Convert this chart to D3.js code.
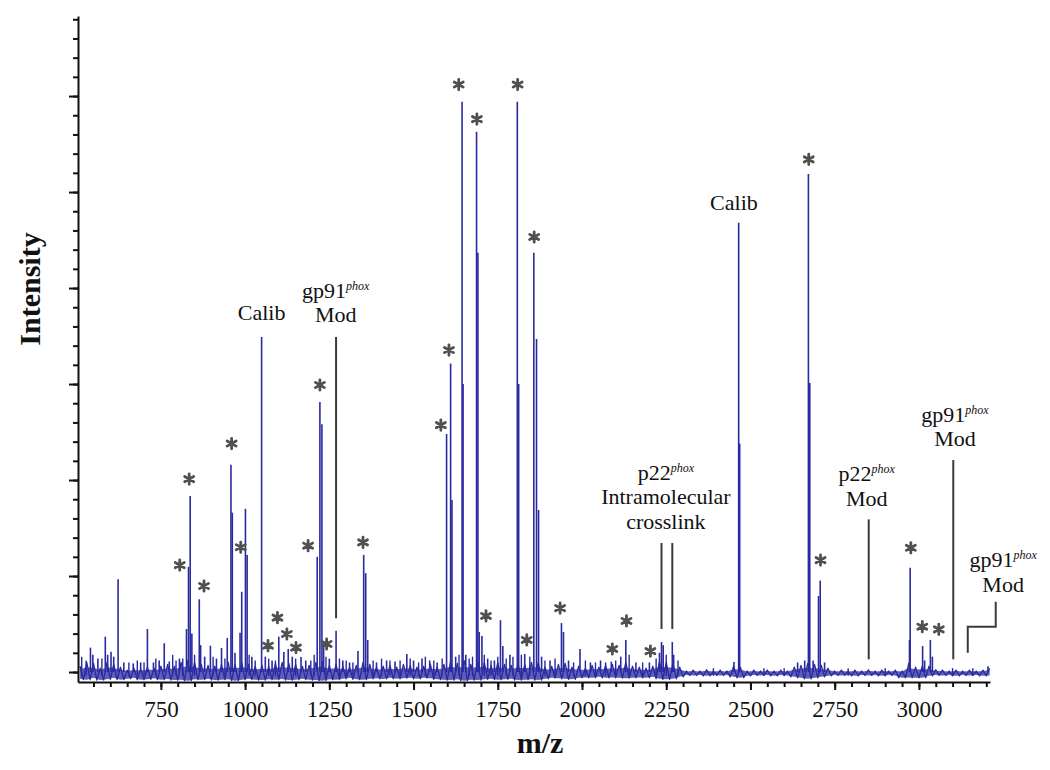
<!DOCTYPE html>
<html><head><meta charset="utf-8">
<script src="https://cdn.jsdelivr.net/npm/d3@7"></script>
<style>body{margin:0;background:#fff}svg{display:block}</style>
</head><body>
<svg id="chart" width="1050" height="770"></svg>
<script>
// ---------- DATA ----------
const xMajorTicks = [750, 1000, 1250, 1500, 1750, 2000, 2250, 2500, 2750, 3000];
const xTickLabels = ["750", "1000", "1250", "1500", "1750", "2000", "2250", "2500", "2750", "3000"];
const yMajorTicks = [0, 5, 10, 15, 20, 25, 30];

// baseline noise envelope, sampled every 20 m/z from 510
const noiseHi = [
0.3,0.5,0.45,0.2,0.5,0.4,0.25,0.1,0.2,0.15,
0.25,0.2,0.3,0.4,0.3,0.5,0.6,0.5,0.4,0.35,
0.3,0.4,0.5,0.4,0.5,0.4,0.3,0.35,0.3,0.45,
0.5,0.45,0.4,0.3,0.35,0.5,0.55,0.35,0.4,0.3,
0.25,0.35,0.5,0.4,0.25,0.3,0.35,0.25,0.4,0.35,
0.25,0.3,0.4,0.25,0.4,0.55,0.45,0.6,0.4,0.55,
0.5,0.35,0.5,0.4,0.35,0.45,0.4,0.5,0.5,0.25,
0.3,0.4,0.45,0.25,0.3,0.2,0.35,0.25,0.35,0.4,
0.35,0.5,0.3,0.25,0.2,0.3,0.55,0.5,0.45,0.25,
0.05,0.1,0.05,0.12,0.05,0.1,0.05,0.3,0.25,0.05,
0.1,0.05,0.1,0.05,0.1,0.05,0.25,0.35,0.45,0.4,
0.35,0.2,0.05,0.1,0.05,0.1,0.05,0.12,0.05,0.1,
0.05,0.1,0.05,0.45,0.25,0.3,0.3,0.12,0.1,0.05,
0.1,0.05,0.1,0.05,0.1,0.2];
const noiseLo = [
-0.35,-0.4,-0.3,-0.42,-0.38,-0.3,-0.4,-0.35,-0.3,-0.4,
-0.38,-0.32,-0.4,-0.36,-0.42,-0.4,-0.45,-0.38,-0.4,-0.35,
-0.42,-0.4,-0.38,-0.45,-0.4,-0.35,-0.4,-0.42,-0.38,-0.4,
-0.36,-0.42,-0.4,-0.35,-0.4,-0.42,-0.45,-0.38,-0.4,-0.35,
-0.3,-0.38,-0.4,-0.35,-0.32,-0.36,-0.3,-0.35,-0.32,-0.3,
-0.35,-0.3,-0.32,-0.38,-0.4,-0.42,-0.38,-0.45,-0.4,-0.42,
-0.38,-0.35,-0.4,-0.38,-0.35,-0.42,-0.4,-0.38,-0.42,-0.35,
-0.3,-0.32,-0.35,-0.38,-0.3,-0.28,-0.3,-0.25,-0.3,-0.28,
-0.3,-0.32,-0.3,-0.28,-0.3,-0.25,-0.35,-0.38,-0.35,-0.25,
-0.15,-0.18,-0.15,-0.2,-0.15,-0.18,-0.15,-0.25,-0.3,-0.2,
-0.15,-0.18,-0.15,-0.2,-0.15,-0.18,-0.25,-0.3,-0.35,-0.3,
-0.25,-0.2,-0.15,-0.18,-0.15,-0.2,-0.15,-0.18,-0.15,-0.2,
-0.15,-0.18,-0.3,-0.28,-0.3,-0.3,-0.2,-0.15,-0.18,-0.15,
-0.2,-0.15,-0.18,-0.15,-0.2,-0.18];

// main peaks: m/z and intensity (arbitrary units)
const peakMz = [541,548,563,585,592,602,610,623,640,668,690,710,728,745,760,775,805,826,832,837,842,864,868,880,897,915,930,947,958,962,970,985,990,1001,1006,1020,1049,1060,1080,1100,1115,1128,1140,1166,1180,1214,1222,1228,1233,1250,1270,1290,1310,1335,1352,1358,1364,1390,1420,1445,1480,1500,1525,1548,1570,1598,1610,1614,1625,1644,1647,1655,1687,1691,1695,1703,1720,1740,1758,1765,1786,1808,1812,1830,1857,1865,1871,1880,1905,1939,1945,1960,1994,2025,2055,2087,2115,2130,2160,2200,2230,2236,2241,2268,2272,2451,2465,2468,2640,2661,2672,2676,2686,2702,2707,2720,2972,2974,3011,3017,3034,3040,3205];
const peakInt = [1.27,0.9,0.7,1.84,0.9,1.06,0.8,4.83,0.5,0.45,0.5,2.24,0.5,0.6,1.5,0.55,0.7,2.24,5.48,9.17,2.0,3.79,1.4,0.8,1.37,0.7,1.25,1.77,10.8,8.3,1.0,2.05,4.18,8.5,6.1,0.8,17.45,0.8,0.6,1.84,1.04,1.2,0.8,0.78,0.6,6.0,14.06,12.9,1.5,0.7,2.15,0.6,0.5,1.1,6.1,5.15,1.67,0.5,0.6,0.55,0.94,0.6,0.7,0.6,0.5,12.4,16.07,8.96,0.8,29.7,15.0,0.9,28.14,21.84,2.08,1.88,0.7,0.6,2.7,1.35,0.9,29.7,15.0,0.94,21.84,17.34,8.44,0.8,0.6,2.55,2.08,0.6,1.2,0.5,0.6,0.54,0.8,1.67,0.5,0.5,1.0,1.56,1.4,1.56,0.9,0.52,23.4,11.9,0.5,0.6,25.94,15.05,0.6,3.96,4.76,0.5,1.67,5.43,1.35,0.6,1.67,0.8,0.3];

// small noise spikes
const smallMz = [515,528,575,655,680,700,735,785,795,815,850,905,940,1012,1030,1070,1090,1150,1195,1205,1240,1280,1300,1320,1380,1405,1430,1460,1490,1515,1535,1560,1585,1635,1665,1675,1710,1730,1750,1775,1795,1820,1845,1890,1920,1975,2010,2040,2070,2100,2140,2180,2220,2250,2285,2390,2540,2600,2790,2900,3100,3160];
const smallInt = [0.8,0.6,0.7,0.5,0.6,0.5,0.7,0.9,0.6,0.7,0.9,0.8,0.7,0.9,0.6,0.7,0.6,0.7,0.6,0.9,0.8,0.7,0.6,0.5,0.6,0.7,0.6,0.6,0.7,0.5,0.8,0.6,0.7,0.9,0.7,0.8,0.9,0.6,0.8,0.7,0.8,0.9,0.8,0.6,0.7,0.5,0.6,0.5,0.5,0.6,0.9,0.5,0.7,0.9,0.6,0.2,0.2,0.2,0.2,0.2,0.2,0.2];

// asterisk annotations (m/z, intensity level)
const starMz = [806,834,878,960,987,1068,1096,1124,1151,1187,1222,1242,1350,1581,1605,1634,1688,1715,1809,1836,1858,1935,2090,2132,2203,2673,2708,2976,3010,3059];
const starLevel = [5.57,10.05,4.48,11.9,6.5,1.37,2.83,1.98,1.27,6.58,14.95,1.46,6.75,12.86,16.77,30.6,28.8,2.92,30.6,1.67,22.66,3.33,1.2,2.66,1.09,26.7,5.83,6.47,2.36,2.22];

// annotation leader lines
const leaderMz = [1270, 2236, 2268, 2851, 3102];
const leaderFrom = [2.8, 2.24, 2.24, 0.66, 0.66];
const leaderTo = [17.45, 6.72, 6.72, 7.95, 11.04];
const bracketMz = [3145, 3145, 3228, 3228];
const bracketLevel = [1.0, 2.36, 2.36, 3.66];

// annotation labels ("^" marks the superscript part)
const labelLines = [["Calib"], ["gp91^phox", "Mod"], ["p22^phox", "Intramolecular", "crosslink"], ["Calib"], ["p22^phox", "Mod"], ["gp91^phox", "Mod"], ["gp91^phox", "Mod"]];
const labelMz = [1049, 1269, 2249, 2451, 2845, 3107, 3250];
const labelLevel = [18.33, 18.23, 7.45, 24.06, 8.65, 11.77, 4.17];

// ---------- CHART ----------
const svg = d3.select("#chart");
const x = d3.scaleLinear().domain([504, 3211]).range([78, 990]);
const y = d3.scaleLinear().domain([-0.52, 34.17]).range([682, 16]);
const blue = "#2a2aa0";
const serif = "'Liberation Serif', 'Times New Roman', serif";

// noise band (area + zigzag between envelope samples)
const noiseMz = d3.range(510, 3211, 20);
const noise = noiseMz.map((m, i) => ({mz: m, hi: noiseHi[i], lo: noiseLo[i]})).filter(d => d.hi !== undefined);
svg.append("path").datum(noise)
  .attr("d", d3.area().x(d => x(d.mz)).y0(d => y(d.lo)).y1(d => y(d.hi * 0.5)))
  .attr("fill", blue).attr("fill-opacity", 0.75);
const zig = [];
noise.forEach((d, i) => {
  zig.push([x(d.mz), y(d.hi)]);
  const next = noise[i + 1];
  if (next) zig.push([x((d.mz + next.mz) / 2), y(Math.min(d.lo, next.lo))]);
});
svg.append("path").attr("d", d3.line()(zig))
  .attr("fill", "none").attr("stroke", blue).attr("stroke-width", 1.3).attr("stroke-linejoin", "round");

// small spikes
svg.append("g").selectAll("line").data(smallMz).join("line")
  .attr("x1", d => x(d)).attr("x2", d => x(d))
  .attr("y1", y(-0.2)).attr("y2", (d, i) => y(smallInt[i]))
  .attr("stroke", blue).attr("stroke-width", 1.4);

// peaks
svg.append("g").selectAll("line").data(peakMz).join("line")
  .attr("x1", d => x(d)).attr("x2", d => x(d))
  .attr("y1", y(0)).attr("y2", (d, i) => y(peakInt[i]))
  .attr("stroke", blue).attr("stroke-width", 1.6);

// axes
const gx = svg.append("g").attr("transform", `translate(0,${y.range()[0]})`);
gx.call(d3.axisBottom(x).tickValues(d3.range(550, 3201, 50)).tickSize(5).tickSizeOuter(0).tickFormat(""));
const gx2 = svg.append("g").attr("transform", `translate(0,${y.range()[0]})`);
gx2.call(d3.axisBottom(x).tickValues(xMajorTicks).tickSize(8).tickSizeOuter(0).tickFormat((d, i) => xTickLabels[i]));
gx2.select(".domain").remove();
const gy = svg.append("g").attr("transform", `translate(${x.range()[0]},0)`);
gy.call(d3.axisLeft(y).tickValues(d3.range(0, 35, 1)).tickSize(5).tickSizeOuter(0).tickFormat(""));
const gy2 = svg.append("g").attr("transform", `translate(${x.range()[0]},0)`);
gy2.call(d3.axisLeft(y).tickValues(yMajorTicks).tickSize(9).tickSizeOuter(0).tickFormat(""));
gy2.select(".domain").remove();
svg.selectAll(".domain").attr("stroke", "#111").attr("stroke-width", 2);
svg.selectAll(".tick line").attr("stroke", "#111").attr("stroke-width", 2);
gx2.selectAll(".tick text").attr("font-family", serif).attr("font-size", 23).attr("fill", "#111").attr("dy", "1.05em");

// axis titles
svg.append("text").attr("x", 540).attr("y", 753).attr("text-anchor", "middle")
  .attr("font-family", serif).attr("font-weight", "bold").attr("font-size", 30).attr("fill", "#111").text("m/z");
svg.append("text").attr("transform", "translate(40,289) rotate(-90)").attr("text-anchor", "middle")
  .attr("font-family", serif).attr("font-weight", "bold").attr("font-size", 30).attr("fill", "#111").text("Intensity");

// leader lines
svg.append("g").selectAll("line").data(leaderMz).join("line")
  .attr("x1", d => x(d)).attr("x2", d => x(d))
  .attr("y1", (d, i) => y(leaderFrom[i])).attr("y2", (d, i) => y(leaderTo[i]))
  .attr("stroke", "#3a3a3a").attr("stroke-width", 2);
svg.append("path")
  .attr("d", d3.line()(bracketMz.map((m, i) => [x(m), y(bracketLevel[i])])))
  .attr("fill", "none").attr("stroke", "#3a3a3a").attr("stroke-width", 2);

// asterisks
function asterisk(r) {
  const p = d3.path();
  for (let k = 0; k < 3; k++) {
    const a = Math.PI / 2 + k * Math.PI / 3;
    p.moveTo(r * Math.cos(a), r * Math.sin(a));
    p.lineTo(-r * Math.cos(a), -r * Math.sin(a));
  }
  return p.toString();
}
svg.append("g").selectAll("path").data(starMz).join("path")
  .attr("transform", (d, i) => `translate(${x(d)},${y(starLevel[i])})`)
  .attr("d", asterisk(5.2))
  .attr("stroke", "#505050").attr("stroke-width", 2.8).attr("stroke-linecap", "round").attr("fill", "none");

// labels
const lineGap = 24.5;
labelLines.forEach((lines, li) => {
  const cx = x(labelMz[li]);
  const baseY = y(labelLevel[li]);
  lines.forEach((txt, k) => {
    const ty = baseY - (lines.length - 1 - k) * lineGap;
    const t = svg.append("text").attr("x", cx).attr("y", ty).attr("text-anchor", "middle")
      .attr("font-family", serif).attr("font-size", 22).attr("fill", "#111");
    const parts = txt.split("^");
    t.append("tspan").text(parts[0]);
    if (parts[1]) {
      t.append("tspan").attr("font-size", 12).attr("font-style", "italic").attr("dy", -8).text(parts[1]);
    }
  });
});
</script>
</body></html>
